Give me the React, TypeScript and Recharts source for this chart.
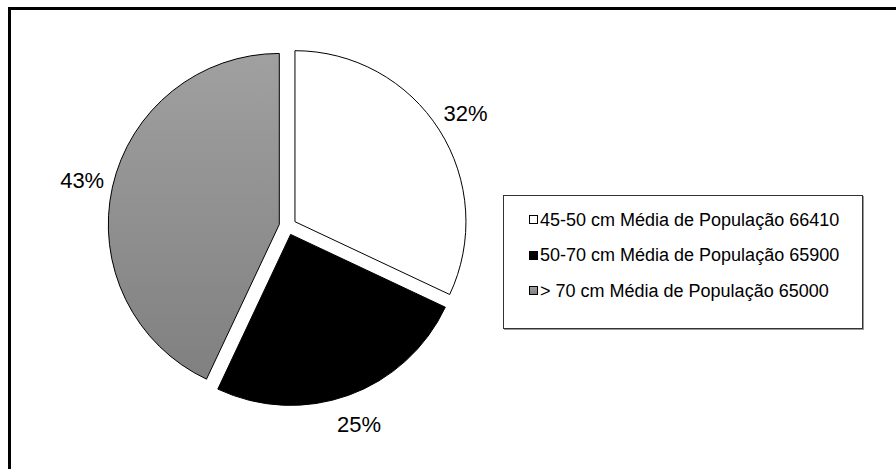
import React from 'react';
import { PieChart, Pie, Cell, Legend } from 'recharts';

const categories = [
  '45-50 cm Média de População 66410',
  '50-70 cm Média de População 65900',
  '> 70 cm Média de População 65000',
];
const shares = [32, 25, 43];
const fills = ['#ffffff', '#000000', 'url(#grayFill)'];
const swatches = ['#ffffff', '#000000', 'linear-gradient(#a0a0a0, #808080)'];

const data = categories.map((name, i) => ({ name, value: shares[i] }));

const WIDTH = 885;
const HEIGHT = 459;
const CX = 276.7;
const CY = 216.3;
const RADIUS = 171;
const EXPLODE = 8.6;
const LABEL_GAP = 31;
const RAD = Math.PI / 180;
const FONT = '"Liberation Sans", Arial, sans-serif';

const total = shares.reduce((a, b) => a + b, 0);

// offset of each exploded slice along its own mid angle
function sliceCenter(i: number) {
  const before = shares.slice(0, i).reduce((a, b) => a + b, 0);
  const midClock = ((before + shares[i] / 2) / total) * 360;
  return {
    cx: CX + EXPLODE * Math.sin(midClock * RAD),
    cy: CY - EXPLODE * Math.cos(midClock * RAD),
  };
}

const makeLabel = (own: number, cx: number, cy: number) => (props: any) => {
  if (props.index !== own) return <g />;
  const r = RADIUS + LABEL_GAP;
  const x = cx + r * Math.cos(-props.midAngle * RAD);
  const y = cy + r * Math.sin(-props.midAngle * RAD);
  return (
    <text
      x={x}
      y={y}
      textAnchor="middle"
      dominantBaseline="central"
      fontSize={22}
      fontFamily={FONT}
      fill="#000"
    >
      {`${Math.round(props.percent * 100)}%`}
    </text>
  );
};

function LegendBox() {
  return (
    <div
      style={{
        width: 358,
        height: 126,
        border: '1px solid #333',
        boxShadow: '1px 1px 0 #999',
        background: '#fff',
        paddingTop: 6,
        boxSizing: 'content-box',
        fontFamily: FONT,
        fontSize: 18,
        color: '#000',
      }}
    >
      {categories.map((name, i) => (
        <div
          key={name}
          style={{ height: 35.5, display: 'flex', alignItems: 'center', paddingLeft: 25 }}
        >
          <span
            style={{
              width: 7,
              height: 7,
              border: '1px solid #000',
              background: swatches[i],
              marginRight: 2,
              display: 'inline-block',
            }}
          />
          <span style={{ lineHeight: '20px', whiteSpace: 'nowrap' }}>{name}</span>
        </div>
      ))}
    </div>
  );
}

export default function App() {
  return (
    <div
      style={{
        position: 'fixed',
        left: 8,
        top: 7,
        width: WIDTH,
        height: HEIGHT + 3,
        borderTop: '3px solid #000',
        borderLeft: '3px solid #000',
        background: '#fff',
        overflow: 'hidden',
      }}
    >
      <PieChart width={WIDTH} height={HEIGHT} margin={{ top: 0, right: 0, bottom: 0, left: 0 }}>
        <defs>
          <linearGradient id="grayFill" x1="0" y1="0" x2="0" y2="1">
            <stop offset="0%" stopColor="#a0a0a0" />
            <stop offset="100%" stopColor="#808080" />
          </linearGradient>
        </defs>
        {shares.map((_, i) => {
          const { cx, cy } = sliceCenter(i);
          return (
            <Pie
              key={i}
              data={data}
              dataKey="value"
              nameKey="name"
              cx={cx}
              cy={cy}
              outerRadius={RADIUS}
              startAngle={90}
              endAngle={-270}
              isAnimationActive={false}
              labelLine={false}
              label={makeLabel(i, cx, cy)}
              legendType="none"
            >
              {data.map((d, j) => (
                <Cell
                  key={d.name}
                  fill={j === i ? fills[j] : 'none'}
                  stroke={j === i ? '#000' : 'none'}
                  strokeWidth={1}
                />
              ))}
            </Pie>
          );
        })}
        <Legend
          content={() => <LegendBox />}
          wrapperStyle={{ left: 492, top: 185, width: 360, height: 133 }}
        />
      </PieChart>
    </div>
  );
}
